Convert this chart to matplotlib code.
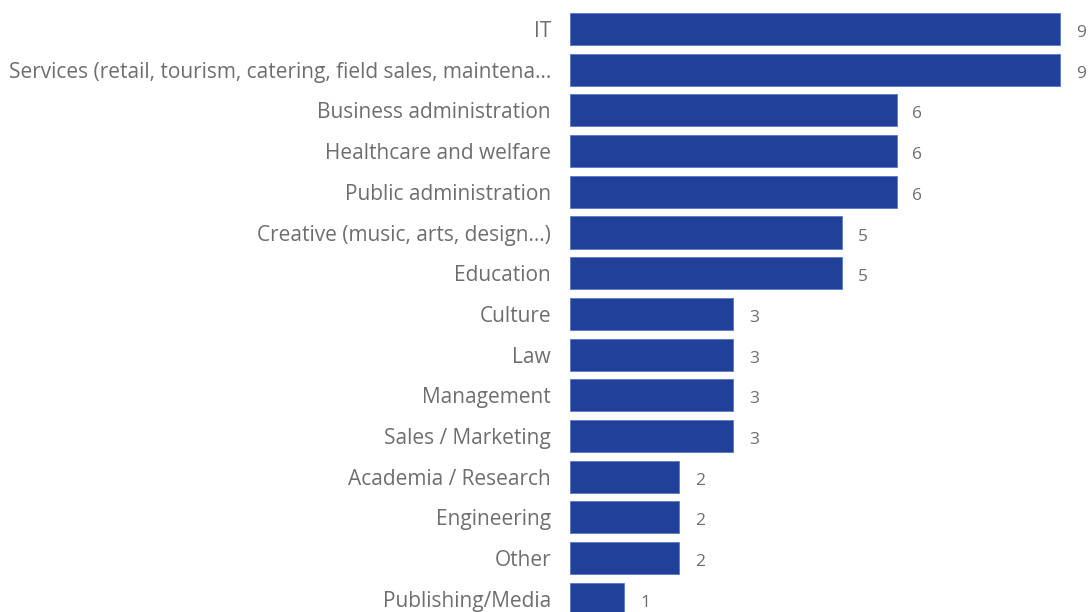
import matplotlib
matplotlib.use("Agg")
import matplotlib.pyplot as plt

categories = [
    "IT",
    "Services (retail, tourism, catering, field sales, maintena...",
    "Business administration",
    "Healthcare and welfare",
    "Public administration",
    "Creative (music, arts, design...)",
    "Education",
    "Culture",
    "Law",
    "Management",
    "Sales / Marketing",
    "Academia / Research",
    "Engineering",
    "Other",
    "Publishing/Media",
]
counts = [9, 9, 6, 6, 6, 5, 5, 3, 3, 3, 3, 2, 2, 2, 1]

plt.rcParams['font.family'] = ['Open Sans', 'DejaVu Sans']

W, H = 1089, 612
fig = plt.figure(figsize=(W / 100, H / 100), dpi=100)
ax = fig.add_axes([570 / W, 0, 1 - 570 / W, 1])

bar_color = "#21409A"
text_color = "#6e6e6e"
pos = list(range(len(categories)))
ax.barh(pos, counts, height=0.79, color=bar_color, edgecolor="#5a78c8", linewidth=0.6)

ax.set_xlim(0, (W - 570) / 54.44)
ax.set_ylim((H - 29) / 40.7, -29 / 40.7)

ax.set_yticks(pos)
ax.set_yticklabels(categories, fontsize=15.0, color=text_color)
ax.tick_params(axis='y', length=0, pad=13.7)
ax.set_xticks([])
for s in ax.spines.values():
    s.set_visible(False)

for p, v in zip(pos, counts):
    ax.text(v + 0.29, p + 0.05, str(v), va='center_baseline', ha='left',
            fontsize=12.5, color=text_color)

fig.savefig("out.png", dpi=100)
